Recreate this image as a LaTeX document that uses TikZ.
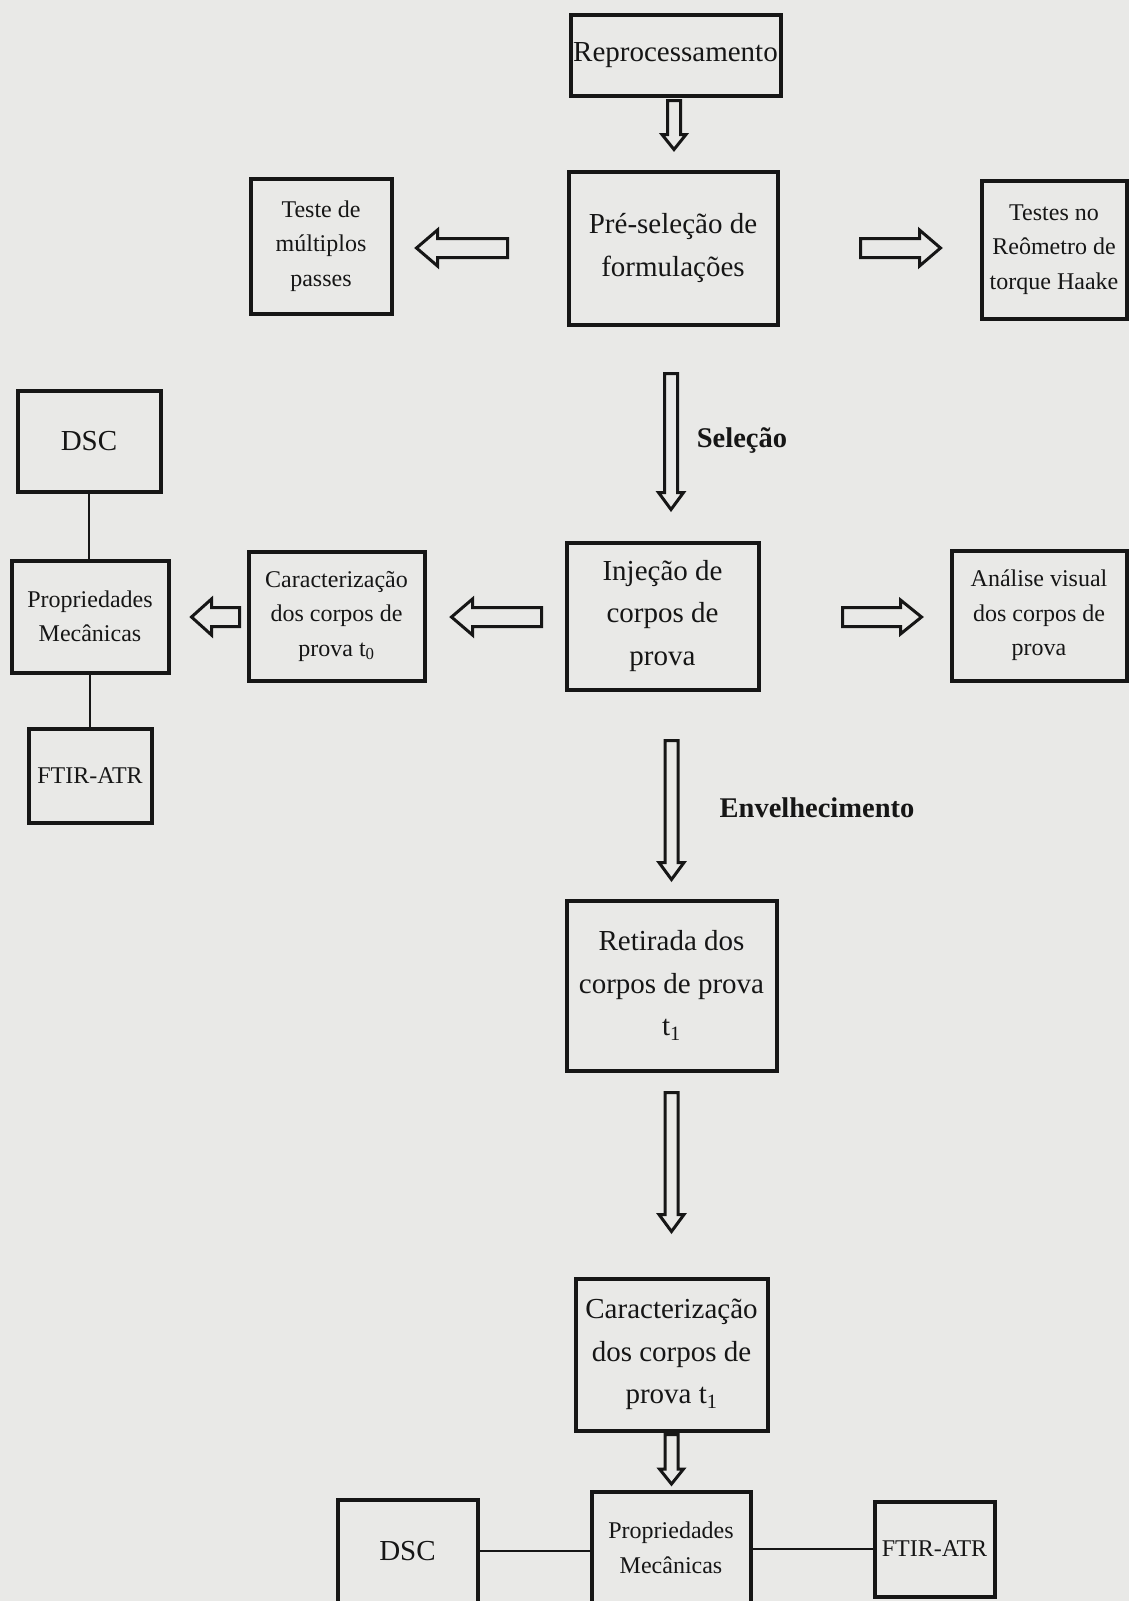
\documentclass[tikz,border=0pt]{standalone}
\usepackage{fontspec}
\setmainfont{Liberation Serif}
\usetikzlibrary{calc}
\definecolor{bgcol}{RGB}{233,233,231}
\definecolor{ink}{RGB}{22,22,22}
\tikzset{
  box/.style={draw=ink, line width=4, text=ink, align=center, inner sep=0pt},
  bigtxt/.style={font=\fontsize{29}{42.5}\selectfont},
  smalltxt/.style={font=\fontsize{24}{34.5}\selectfont},
  blockarrow/.style={draw=ink, line width=3, line join=miter},
  conn/.style={draw=ink, line width=1.5},
  lbl/.style={text=ink, font=\fontsize{28.5}{34}\selectfont\bfseries, inner sep=0pt}
}
% #1 from, #2 to, #3 half shaft, #4 half head, #5 head length
\newcommand\arrdown[5]{\draw[blockarrow] let \p1=(#1), \p2=(#2) in
 ({\x1-#3pt},\y1) -- ({\x1-#3pt},{\y2+#5pt}) -- ({\x1-#4pt},{\y2+#5pt}) -- (\x1,\y2) -- ({\x1+#4pt},{\y2+#5pt}) -- ({\x1+#3pt},{\y2+#5pt}) -- ({\x1+#3pt},\y1) -- cycle;}
\newcommand\arrleft[5]{\draw[blockarrow] let \p1=(#1), \p2=(#2) in
 (\x1,{\y1+#3pt}) -- ({\x2+#5pt},{\y1+#3pt}) -- ({\x2+#5pt},{\y1+#4pt}) -- (\x2,\y1) -- ({\x2+#5pt},{\y1-#4pt}) -- ({\x2+#5pt},{\y1-#3pt}) -- (\x1,{\y1-#3pt}) -- cycle;}
\newcommand\arrright[5]{\draw[blockarrow] let \p1=(#1), \p2=(#2) in
 (\x1,{\y1+#3pt}) -- ({\x2-#5pt},{\y1+#3pt}) -- ({\x2-#5pt},{\y1+#4pt}) -- (\x2,\y1) -- ({\x2-#5pt},{\y1-#4pt}) -- ({\x2-#5pt},{\y1-#3pt}) -- (\x1,{\y1-#3pt}) -- cycle;}
\begin{document}
\begin{tikzpicture}[x=1pt,y=-1pt]
\useasboundingbox (0,0) rectangle (1129,1601);
\clip (0,0) rectangle (1129,1601);
\fill[bgcol] (0,0) rectangle (1129,1601);

% boxes
\node[box,bigtxt,minimum width=210,minimum height=81] (repro) at (675.5,55) {Reprocessamento};
\node[box,bigtxt,minimum width=209,minimum height=153] (presel) at (673,248) {Pré-seleção de\\formulações};
\node[box,smalltxt,minimum width=141,minimum height=135] (teste) at (321,246) {Teste de\\múltiplos\\passes};
\node[box,smalltxt,minimum width=145,minimum height=138] (reom) at (1054,249.5) {Testes no\\Reômetro de\\torque Haake};

\node[box,bigtxt,minimum width=143,minimum height=101] (dsc1) at (89,441) {DSC};
\node[box,smalltxt,minimum width=157,minimum height=112] (prop1) at (90,616.5) {Propriedades\\Mecânicas};
\node[box,smalltxt,minimum width=123,minimum height=94] (ftir1) at (90,775.5) {FTIR-ATR};
\node[box,smalltxt,minimum width=176,minimum height=129] (car0) at (336.5,616) {Caracterização\\dos corpos de\\prova t\textsubscript{0}};
\node[box,bigtxt,minimum width=192,minimum height=147] (inj) at (662.5,616) {\raisebox{-3pt}{\parbox{190pt}{\centering Injeção de\\corpos de\\prova}}};
\node[box,smalltxt,minimum width=175,minimum height=130] (anal) at (1039,615.5) {Análise visual\\dos corpos de\\prova};

\node[box,bigtxt,minimum width=210,minimum height=170] (ret) at (671.5,985.5) {Retirada dos\\corpos de prova\\t\textsubscript{1}};
\node[box,bigtxt,minimum width=192,minimum height=152] (car1) at (671.5,1354.5) {Caracterização\\dos corpos de\\prova t\textsubscript{1}};

\node[box,smalltxt,minimum width=159,minimum height=112] (prop2) at (671,1548) {Propriedades\\Mecânicas};
\node[box,bigtxt,minimum width=140,minimum height=103] (dsc2) at (407.5,1551) {DSC};
\node[box,smalltxt,minimum width=120,minimum height=95] (ftir2) at (934.5,1549) {FTIR-ATR};

% labels
\node[lbl] (lsel) at (742,441) {Seleção};
\node[lbl] (lenv) at (817,808) {Envelhecimento};

% thin connectors
\draw[conn] (dsc1.south) -- (dsc1.south |- prop1.north);
\draw[conn] (prop1.south) -- (prop1.south |- ftir1.north);
\draw[conn] (dsc2.east) -- (dsc2.east -| prop2.west);
\draw[conn] (ftir2.west) -- (ftir2.west -| prop2.east);

% block arrows
\arrdown{$(repro.south)+(-1.5,3)$}{$(presel.north)+(0,-20)$}{6.5}{12}{15}
\arrdown{$(presel.south)+(-2,47)$}{$(inj.north)+(0,-31)$}{6.5}{12.5}{17}
\arrdown{$(inj.south -| ret.north)+(0,49)$}{$(ret.north)+(0,-19)$}{6.5}{12.5}{17}
\arrdown{$(ret.south)+(0,20)$}{$(car1.north)+(0,-45)$}{6.5}{12.5}{17}
\arrdown{$(car1.south)+(0,2)$}{$(prop2.north)+(0,-6)$}{6.5}{12}{15}

\arrleft{$(presel.west)+(-59,0)$}{$(teste.east)+(23,0)$}{9.5}{18}{21}
\arrright{$(presel.east)+(81,0)$}{$(reom.west)+(-39,0)$}{9.5}{18}{21}
\arrleft{$(inj.west)+(-23,1)$}{$(car0.east)+(25,0)$}{9.5}{18}{21}
\arrleft{$(car0.west)+(-7,1)$}{$(prop1.east)+(21,0)$}{9.5}{18}{20}
\arrright{$(inj.east)+(82,1)$}{$(anal.west)+(-28,0)$}{9.5}{17}{21}
\end{tikzpicture}
\end{document}
